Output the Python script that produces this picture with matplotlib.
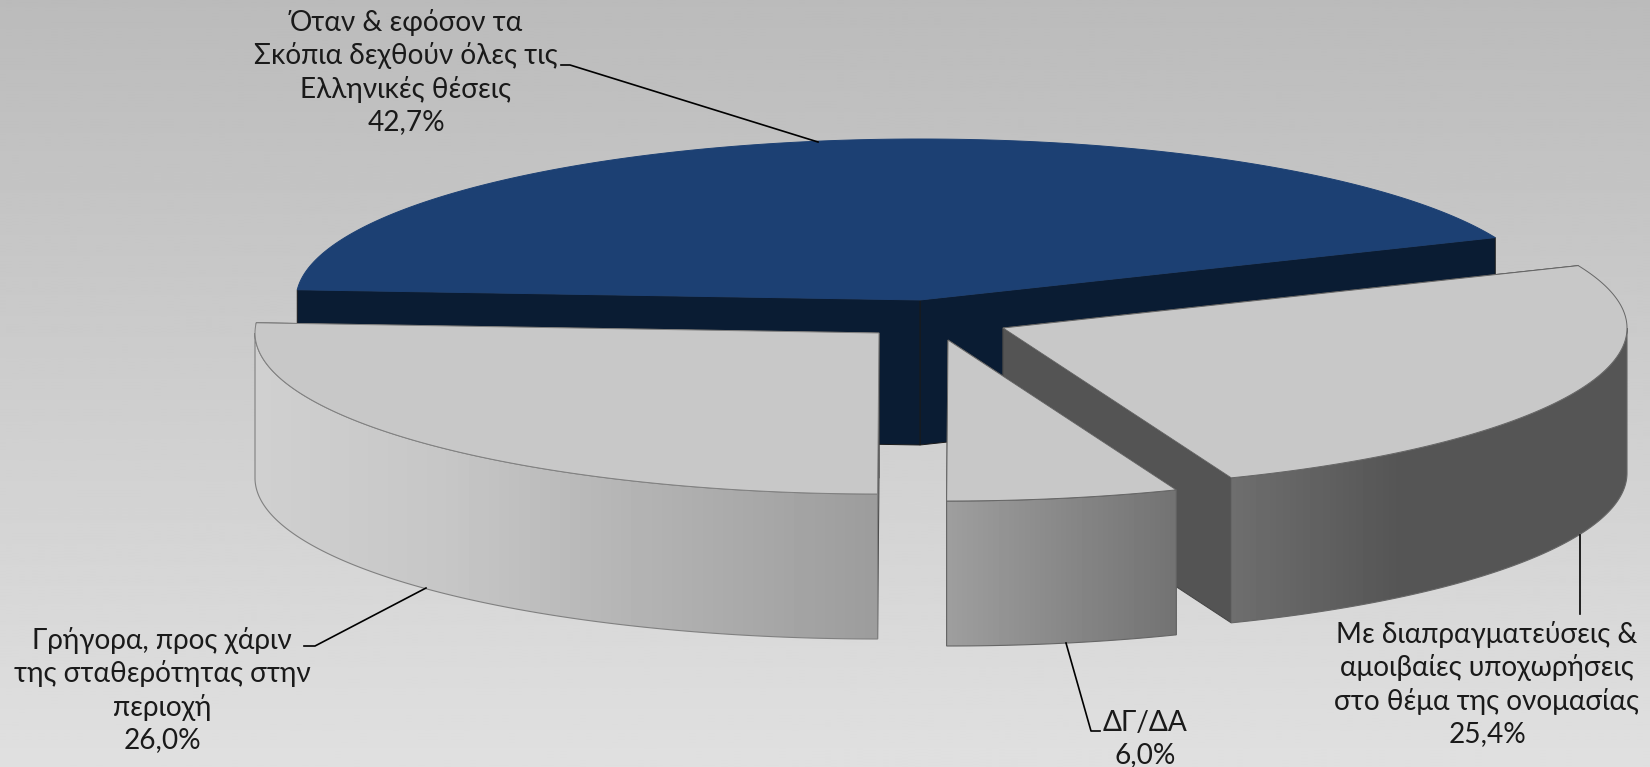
import numpy as np
import matplotlib
matplotlib.use("Agg")
import matplotlib.pyplot as plt
from matplotlib.patches import Polygon

plt.rcParams['font.family'] = ['Lato', 'Noto Sans', 'DejaVu Sans']

labels = ["Όταν & εφόσον τα\nΣκόπια δεχθούν όλες τις\nΕλληνικές θέσεις",
          "Γρήγορα, προς χάριν\nτης σταθερότητας στην\nπεριοχή",
          "ΔΓ/ΔΑ",
          "Με διαπραγματεύσεις &\nαμοιβαίες υποχωρήσεις\nστο θέμα της ονομασίας"]
values = [42.7, 26.0, 6.0, 25.4]

# pie geometry, in pixels of the picture
startAngle = 22.8
rx = 624
ry = 161
depth = 145
centers = [(920, 300), (879, 333), (948, 340), (1003, 328)]
topColors = ["#1c4073", "#c8c8c8", "#c8c8c8", "#c8c8c8"]
wallColors = ["#0a1c33", "#a0a0a0", "#8a8a8a", "#545454"]
edgeColors = ["#1c4073", "#808080", "#666666", "#666666"]
drawOrder = [0, 3, 2, 1]

labelPos = [(406, 72), (162, 690), (1145, 739), (1487, 684)]
leaders = [[(561, 65), (570, 65), (818, 142)],
           [(304, 646), (315, 646), (426, 588)],
           [(1066, 643), (1091, 731), (1100, 731)],
           [(1580, 535), (1580, 614)]]

textSize = 20.2

fig = plt.figure(figsize=(16.5, 7.67), dpi=100)
ax = fig.add_axes([0, 0, 1, 1])

# background
bgGrad = np.linspace(0xbb, 0xe0, 256).reshape(-1, 1)
ax.imshow(bgGrad, extent=[0, 1650, 767, 0], cmap='gray', vmin=0, vmax=255,
          aspect='auto', zorder=0)

# light on the outer wall depends on x
xRamp = np.arange(0, 1650)
lightRamp = np.interp(xRamp, [255, 450, 879, 948, 1178, 1233, 1400, 1640],
                      [0xd0, 0xc6, 0x9c, 0x9e, 0x72, 0x6e, 0x55, 0x55]).reshape(1, -1)


def arc(center, t0, t1, dy=0):
    t = np.radians(np.linspace(t0, t1, 200))
    return np.column_stack([center[0] + rx*np.cos(t), center[1] - ry*np.sin(t) + dy])


angles = startAngle + np.concatenate([[0], np.cumsum(values)])/np.sum(values)*360

z = 1
for i in drawOrder:
    c = centers[i]
    t0, t1 = angles[i], angles[i+1]
    rim = arc(c, t0, t1)

    # straight walls, back one first so the front one covers it
    for end in sorted((rim[0], rim[-1]), key=lambda p: p[1]):
        wall = [c, end, (end[0], end[1]+depth), (c[0], c[1]+depth)]
        ax.add_patch(Polygon(wall, facecolor=wallColors[i], edgecolor="#1a1a1a" if i == 0 else "#444444",
                             lw=0.7, zorder=z))
        z += 1

    # curved outer wall, only the front half shows
    a0, a1 = max(t0, 180), min(t1, 360)
    if a1 > a0:
        upper = arc(c, a0, a1)
        lower = arc(c, a1, a0, depth)
        poly = Polygon(np.vstack([upper, lower]), facecolor='none', edgecolor=edgeColors[i], lw=0.8, zorder=z+1)
        ax.add_patch(poly)
        im = ax.imshow(lightRamp, extent=[0, 1650, 767, 0], cmap='gray', vmin=0, vmax=255,
                       aspect='auto', zorder=z)
        im.set_clip_path(poly)
        z += 2

    top = Polygon(np.vstack([[c], rim]), facecolor=topColors[i], edgecolor=edgeColors[i], lw=0.7, zorder=z)
    ax.add_patch(top)
    z += 1

for i in range(len(values)):
    pct = "{:.1f}%".format(values[i]).replace(".", ",")
    ax.text(labelPos[i][0], labelPos[i][1], labels[i] + "\n" + pct, ha='center', va='center',
            fontsize=textSize, color="#1a1a1a", linespacing=1.29, zorder=z+1)
    pts = np.array(leaders[i])
    ax.plot(pts[:, 0], pts[:, 1], color="black", lw=1.2, zorder=z)

ax.set_xlim(0, 1650)
ax.set_ylim(767, 0)
ax.axis('off')

plt.savefig('out.png', dpi=100)
